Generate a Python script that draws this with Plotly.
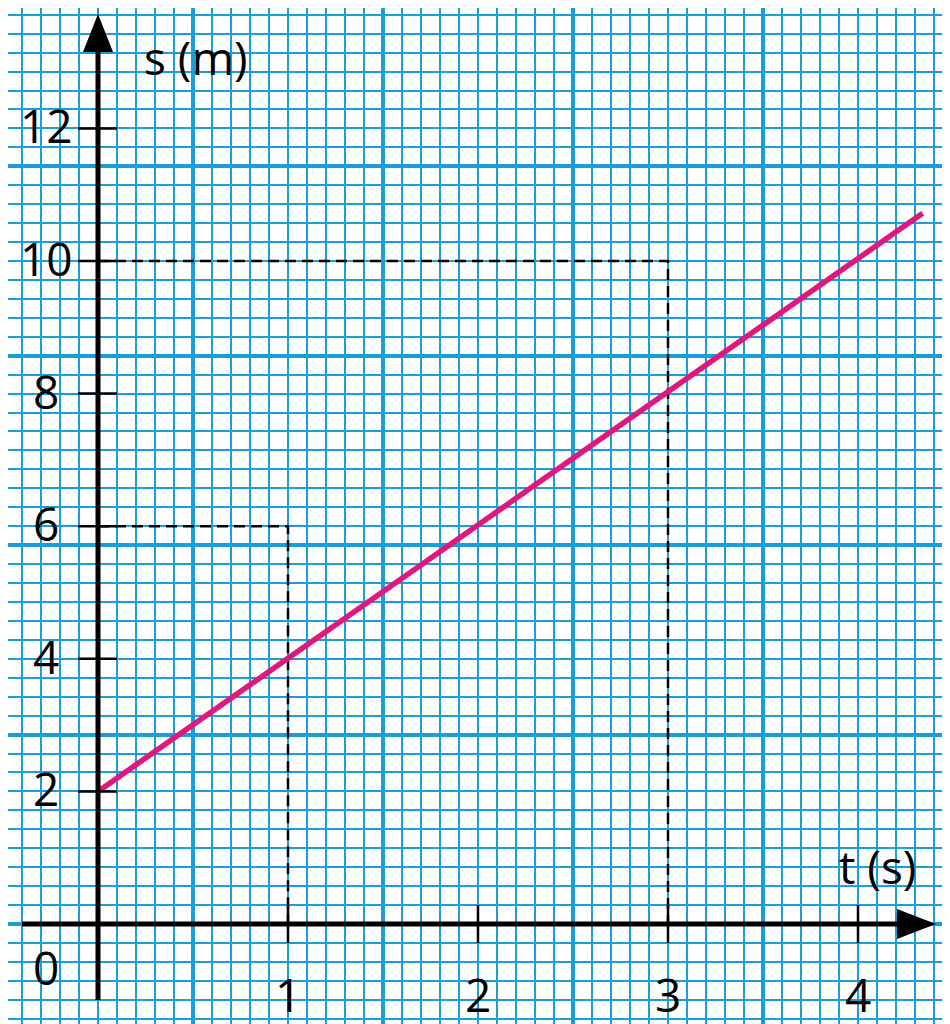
import plotly.graph_objects as go

# ---- data ----
t_line = [0, 4.34]          # time (s)
s_line = [2, 10.72]         # position (m)
guide_t = [1, 3]            # dashed guide corners (t)
guide_s = [6, 10]           # dashed guide corners (s)
x_ticks = [1, 2, 3, 4]
x_tick_labels = ["1", "2", "3", "4"]
y_ticks = [2, 4, 6, 8, 10, 12]
y_tick_labels = ["2", "4", "6", "8", "10", "12"]
x_title = "t (s)"
y_title = "s (m)"

# ---- scale set-up (page pixels -> data); page body has an 8px margin ----
OFF = 8
PX_X = 190.0      # pixels per second
PX_Y = 66.3       # pixels per metre
OX, OY = 98.0 - OFF, 924.0 - OFF
W, H = 950 - OFF, 1024 - OFF
x_range = [-OX / PX_X, (W - OX) / PX_X]
y_range = [(OY - H) / PX_Y, OY / PX_Y]

def dx(px):
    return px / PX_X

def dy(px):
    return px / PX_Y

GRID = "#1a9ddb"
PINK = "#e2177e"
FONT = "Open Sans"
FS = 46

fig = go.Figure()

# dashed guides
for gt, gs in zip(guide_t, guide_s):
    fig.add_trace(go.Scatter(
        x=[0, gt, gt], y=[gs, gs, 0], mode="lines",
        line=dict(color="black", width=2.5, dash="11px,6px"),
        hoverinfo="skip", showlegend=False))

# main line
fig.add_trace(go.Scatter(
    x=t_line, y=s_line, mode="lines",
    line=dict(color=PINK, width=5.5),
    hoverinfo="skip", showlegend=False))

shapes = []
# axes (page pixel positions converted to data units)
shapes.append(dict(type="line", xref="x", yref="y", x0=0, x1=0,
                   y0=-dy(1000 - 924), y1=dy(924 - 52),
                   line=dict(color="black", width=5), layer="above"))
shapes.append(dict(type="line", xref="x", yref="y", x0=-dx(98 - 22), x1=dx(897 - 98),
                   y0=0, y1=0, line=dict(color="black", width=5), layer="above"))
# arrow heads
tipy, basey, hw = dy(924 - 14), dy(924 - 52), dx(15)
shapes.append(dict(type="path", xref="x", yref="y",
                   path=f"M {-hw} {basey} L {hw} {basey} L 0 {tipy} Z",
                   fillcolor="black", line=dict(width=0), layer="above"))
tipx, basex, hh = dx(936 - 98), dx(897 - 98), dy(15)
shapes.append(dict(type="path", xref="x", yref="y",
                   path=f"M {basex} {-hh} L {basex} {hh} L {tipx} 0 Z",
                   fillcolor="black", line=dict(width=0), layer="above"))
# cross ticks
for xt in x_ticks:
    shapes.append(dict(type="line", xref="x", yref="y", x0=xt, x1=xt,
                       y0=-dy(19), y1=dy(19), line=dict(color="black", width=2.5),
                       layer="above"))
for yt in y_ticks:
    shapes.append(dict(type="line", xref="x", yref="y", x0=-dx(20), x1=dx(19),
                       y0=yt, y1=yt, line=dict(color="black", width=2.5),
                       layer="above"))

annotations = []
for xt, lab in zip(x_ticks, x_tick_labels):
    annotations.append(dict(x=xt, y=0, xref="x", yref="y", text=lab, showarrow=False,
                            yshift=-70, xanchor="center", yanchor="middle",
                            font=dict(family=FONT, size=FS, color="black")))
for yt, lab in zip(y_ticks, y_tick_labels):
    annotations.append(dict(x=0, y=yt, xref="x", yref="y", text=lab, showarrow=False,
                            xshift=-52, yshift=3, xanchor="center", yanchor="middle",
                            font=dict(family=FONT, size=FS, color="black")))
annotations.append(dict(x=0, y=0, xref="x", yref="y", text="0", showarrow=False,
                        xshift=-52, yshift=-43, xanchor="center", yanchor="middle",
                        font=dict(family=FONT, size=FS, color="black")))
annotations.append(dict(x=dx(196 - 98), y=dy(924 - 57), xref="x", yref="y", text=y_title,
                        showarrow=False, xanchor="center", yanchor="middle",
                        font=dict(family=FONT, size=FS, color="black")))
annotations.append(dict(x=dx(877 - 98), y=dy(924 - 866), xref="x", yref="y", text=x_title,
                        showarrow=False, xanchor="center", yanchor="middle",
                        font=dict(family=FONT, size=FS, color="black")))

fig.update_layout(
    width=W, height=H,
    margin=dict(l=0, r=0, t=0, b=0),
    paper_bgcolor="white", plot_bgcolor="white",
    showlegend=False, hovermode=False,
    shapes=shapes, annotations=annotations,
    xaxis=dict(range=x_range, showticklabels=False, ticks="", zeroline=False,
               showline=False, showgrid=True, gridcolor=GRID, gridwidth=4,
               tick0=0.5, dtick=1, fixedrange=True,
               minor=dict(tick0=0, dtick=0.1, showgrid=True, gridcolor=GRID, gridwidth=2)),
    yaxis=dict(range=y_range, showticklabels=False, ticks="", zeroline=False,
               showline=False, showgrid=True, gridcolor=GRID, gridwidth=4,
               tick0=0, dtick=20 / 7, fixedrange=True,
               minor=dict(tick0=0, dtick=2 / 7, showgrid=True, gridcolor=GRID, gridwidth=2)),
)

fig.write_html("out.html")
